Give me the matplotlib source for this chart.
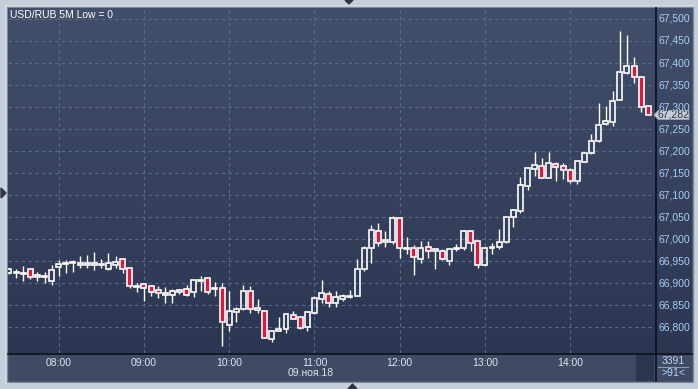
import numpy as np
import matplotlib
matplotlib.use('Agg')
import matplotlib.pyplot as plt
from matplotlib.patches import Rectangle, Polygon
from matplotlib.colors import LinearSegmentedColormap

# USD/RUB 5M candles, 07:25 .. 14:55
start_time = '07:25'
opens = [66923, 66924, 66923, 66932, 66916, 66914, 66906, 66936, 66945, 66945,
         66942, 66942, 66941, 66942, 66932, 66942, 66954, 66934, 66893, 66898,
         66894, 66884, 66877, 66873, 66885, 66887, 66881, 66905, 66911, 66887,
         66889, 66805, 66835, 66842, 66882, 66841, 66837, 66774, 66791, 66795,
         66827, 66824, 66801, 66832, 66865, 66875, 66854, 66865, 66870, 66872,
         66932, 66979, 67019, 66993, 66994, 67047, 66978, 66979, 66956, 66982,
         66975, 66974, 66951, 66979, 66981, 67019, 66996, 66942, 66981, 66983,
         66994, 67051, 67064, 67121, 67160, 67166, 67140, 67171, 67166, 67157,
         67133, 67176, 67196, 67224, 67261, 67265, 67315, 67377, 67393, 67368,
         67302]
highs = [66935, 66932, 66939, 66933, 66926, 66926, 66941, 66953, 66953, 66953,
         66962, 66964, 66971, 66954, 66969, 66962, 66955, 66934, 66900, 66900,
         66896, 66894, 66891, 66888, 66888, 66896, 66907, 66916, 66911, 66903,
         66900, 66883, 66845, 66895, 66894, 66864, 66838, 66792, 66823, 66830,
         66837, 66825, 66837, 66871, 66907, 66882, 66882, 66875, 66885, 66954,
         66985, 67032, 67036, 67019, 67053, 67048, 67006, 66987, 66996, 66996,
         66977, 66977, 66981, 66989, 67021, 67021, 66998, 66983, 66991, 67023,
         67051, 67069, 67142, 67162, 67199, 67185, 67199, 67175, 67172, 67161,
         67178, 67197, 67239, 67309, 67302, 67337, 67473, 67464, 67414, 67368,
         67302]
lows = [66921, 66911, 66904, 66910, 66904, 66901, 66897, 66916, 66924, 66926,
        66934, 66934, 66929, 66934, 66930, 66934, 66924, 66890, 66879, 66860,
        66871, 66867, 66855, 66856, 66875, 66870, 66868, 66883, 66876, 66871,
        66758, 66792, 66813, 66839, 66832, 66833, 66775, 66767, 66791, 66788,
        66819, 66796, 66792, 66831, 66855, 66845, 66847, 66860, 66867, 66871,
        66928, 66945, 66985, 66982, 66989, 66958, 66966, 66919, 66947, 66958,
        66933, 66953, 66941, 66974, 66976, 66974, 66935, 66940, 66966, 66978,
        66992, 67028, 67060, 67112, 67144, 67140, 67140, 67132, 67137, 67128,
        67125, 67175, 67193, 67221, 67259, 67257, 67315, 67375, 67355, 67289,
        67282]
closes = [66932, 66926, 66922, 66915, 66917, 66916, 66929, 66944, 66946, 66949,
          66947, 66947, 66947, 66943, 66945, 66948, 66932, 66894, 66894, 66889,
          66881, 66877, 66873, 66883, 66879, 66873, 66907, 66906, 66879, 66888,
          66812, 66837, 66842, 66882, 66842, 66842, 66776, 66792, 66796, 66830,
          66819, 66799, 66834, 66866, 66877, 66854, 66868, 66871, 66871, 66932,
          66979, 67021, 66991, 66998, 67047, 66979, 66979, 66959, 66979, 66974,
          66976, 66954, 66977, 66980, 67019, 66992, 66942, 66981, 66982, 66993,
          67050, 67066, 67123, 67161, 67168, 67140, 67172, 67165, 67156, 67133,
          67178, 67195, 67223, 67259, 67268, 67313, 67379, 67393, 67369, 67299,
          67282]

hour_labels = ['08:00', '09:00', '10:00', '11:00', '12:00', '13:00', '14:00']
date_label = '09.ноя.18'
y_ticks = list(range(66800, 67501, 50))
last_price = 67282

W, H = 698, 389
Y0, Y1 = 66741.6, 67524.9
BG_TOP = '#424f6a'
BG_BOT = '#2b3652'
RED = '#e3173e'
FONT = 'Liberation Sans'
FS = 7.5


def px(x0, y0, x1, y1):
    return [x0 / W, 1 - y1 / H, (x1 - x0) / W, (y1 - y0) / H]


fig = plt.figure(figsize=(W / 100, H / 100), dpi=100)
fig.patch.set_facecolor('#c5cedb')

# frame + panels in pixel coordinates
base = fig.add_axes([0, 0, 1, 1])
base.set_xlim(0, W)
base.set_ylim(H, 0)
base.axis('off')
base.add_patch(Rectangle((5, 5), 689, 379, facecolor='#d3dae4', edgecolor='none'))
base.add_patch(Rectangle((7, 7), 686, 375, facecolor='#3f4b64', edgecolor='#7f8a9c', lw=1))
grad = np.linspace(0, 1, 256).reshape(-1, 1)
cmap = LinearSegmentedColormap.from_list('bg', [BG_TOP, BG_BOT])
base.imshow(grad, cmap=cmap, extent=(8, 692, 353, 8), aspect='auto', zorder=1)
base.add_patch(Rectangle((637, 354), 17, 27, facecolor='#2a354f', edgecolor='none', zorder=2))
base.plot([636, 636], [356, 379], color='#2c3650', lw=1, zorder=2)
base.plot([8, 692], [353.5, 353.5], color='#0b0f18', lw=1.2, zorder=3)
base.plot([655.5, 655.5], [8, 381], color='#0b0f18', lw=1.2, zorder=3)
base.plot([658, 688], [366.5, 366.5], color='#8c9ab0', lw=0.8, zorder=3)
base.text(673, 361, '3391', color='#b9d6f5', fontsize=FS, family=FONT, ha='center', va='center', zorder=4)
base.text(673, 373, '>91<', color='#b9d6f5', fontsize=FS, family=FONT, ha='center', va='center', zorder=4)
base.text(10, 15, 'USD/RUB 5M Low = 0', color='white', fontsize=FS, family=FONT, va='center', zorder=4)
# small navigation arrows
base.add_patch(Polygon([[345, 0], [353, 0], [349, 4]], closed=True, color='#2d3442', zorder=4))
base.add_patch(Polygon([[1, 188], [1, 198], [6, 193]], closed=True, color='#2d3442', zorder=4))
base.add_patch(Polygon([[348, 389], [357, 389], [352.5, 384]], closed=True, color='#2d3442', zorder=4))

# candle axes
ax = fig.add_axes(px(8, 8, 655, 353))
ax.patch.set_alpha(0)
n = len(opens)
ax.set_xlim(-0.14, 90.95)
ax.set_ylim(Y0, Y1)

sh, sm = map(int, start_time.split(':'))
hour_pos = [((int(l[:2]) * 60) - (sh * 60 + sm)) / 5 for l in hour_labels]

for yv in y_ticks:
    ax.axhline(yv, color='#5b6a85', lw=0.8, ls=(0, (3, 3)), zorder=1)
for xv in hour_pos:
    ax.axvline(xv, color='#5b6a85', lw=0.8, ls=(0, (3, 3)), zorder=1)

bw = 0.7
for i in range(n):
    o, h, l, c = opens[i], highs[i], lows[i], closes[i]
    top, bot = max(o, c), min(o, c)
    if top - bot < 1.5:
        top, bot = top + 0.8, bot - 0.8
    ax.plot([i, i], [top, h], color='white', lw=1, solid_capstyle='butt', zorder=3)
    ax.plot([i, i], [l, bot], color='white', lw=1, solid_capstyle='butt', zorder=3)
    fc = RED if c < o else 'none'
    ax.add_patch(Rectangle((i - bw / 2, bot), bw, top - bot, facecolor=fc,
                           edgecolor='white', lw=1.2, zorder=4))

ax.set_xticks([])
ax.set_yticks([])
for s in ax.spines.values():
    s.set_visible(False)

# right price scale
for yv in y_ticks:
    ax.text(1.005, (yv - Y0) / (Y1 - Y0), f'{yv:,}', transform=ax.transAxes,
            color='#a9cdf2', fontsize=FS, family=FONT, va='center', ha='left', clip_on=False)

# time scale
for xv, lab in zip(hour_pos, hour_labels):
    ax.text(xv, -0.03, lab, transform=ax.get_xaxis_transform(), color='#dde4ee',
            fontsize=FS, family=FONT, ha='center', va='center', clip_on=False)
ax.text(42.5, -0.058, date_label, transform=ax.get_xaxis_transform(), color='#dde4ee',
        fontsize=FS, family=FONT, ha='center', va='center', clip_on=False)

# last price tag (drawn over the price scale as in the terminal)
yp = 8 + (Y1 - last_price) / (Y1 - Y0) * 345
base.add_patch(Polygon([[654, yp], [658, yp - 4.5], [689, yp - 4.5], [689, yp + 4.5], [658, yp + 4.5]],
                       closed=True, facecolor='#c8ccd3', edgecolor='#9aa2ae', lw=0.6, zorder=5))
base.text(673.5, yp, f'{last_price:,}', color='#2a3450', fontsize=FS, family=FONT,
          ha='center', va='center', zorder=6)

fig.savefig('out.png', dpi=100)
